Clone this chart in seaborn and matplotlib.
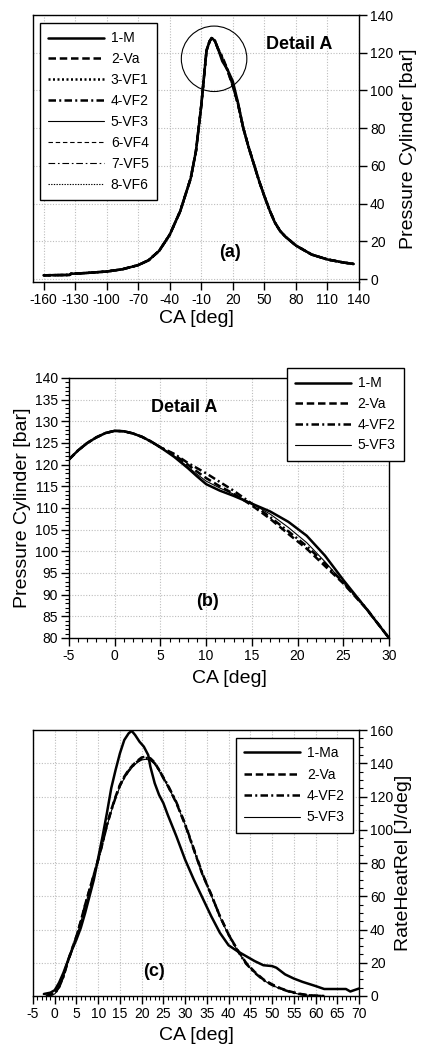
import numpy as np
import pandas as pd
import seaborn as sns
import matplotlib
matplotlib.use("Agg")
import matplotlib.pyplot as plt
from matplotlib.patches import Ellipse
from matplotlib.ticker import MultipleLocator

# ---- panel (a): full cycle pressure ----
ca_a_left = [-160, -135, -134, -120, -100, -85, -70, -60, -50, -40, -30, -20, -15, -10, -5, -2, 0, 3, 6]
p_a_left = [2.0, 2.2, 2.8, 3.2, 4.0, 5.2, 7.4, 10.0, 15.0, 23.5, 36.0, 53.5, 68.0, 92.0, 121.2, 126.2, 127.8, 126.3, 122.0]
ca_a_mid = [10, 15, 20, 25]
p_a_mid_m = [115.5, 111.0, 104.9, 93.4]
p_a_mid_va = [116.9, 110.6, 102.2, 92.6]
p_a_mid_vf1 = [117.4, 110.8, 102.8, 92.8]
p_a_mid_vf2 = [118.0, 111.0, 102.6, 92.7]
p_a_mid_vf3 = [116.2, 110.8, 103.8, 92.9]
p_a_mid_vf4 = [117.0, 110.5, 102.4, 92.5]
p_a_mid_vf5 = [117.6, 110.9, 103.0, 92.8]
p_a_mid_vf6 = [116.6, 110.7, 103.2, 92.6]
ca_a_right = [30, 35, 40, 45, 50, 55, 60, 65, 70, 80, 95, 110, 125, 135]
p_a_right = [80.0, 70.0, 61.0, 52.0, 44.0, 36.5, 30.0, 25.5, 22.5, 17.8, 13.0, 10.4, 8.8, 8.0]

labels_a = ["1-M", "2-Va", "3-VF1", "4-VF2", "5-VF3", "6-VF4", "7-VF5", "8-VF6"]
mids_a = [p_a_mid_m, p_a_mid_va, p_a_mid_vf1, p_a_mid_vf2,
          p_a_mid_vf3, p_a_mid_vf4, p_a_mid_vf5, p_a_mid_vf6]

# ---- panel (b): detail A ----
ca_b = [-5, -4, -3, -2, -1, 0, 1, 2, 3, 4, 5, 6.5, 8, 9, 10, 11.5, 13, 15, 17, 19, 21, 23, 25, 27.5, 30]
p_b_m = [121.2, 123.3, 125.0, 126.3, 127.3, 127.8, 127.7, 127.2, 126.4, 125.3, 124.0, 121.8, 119.2,
         117.3, 115.5, 114.0, 112.8, 111.0, 109.2, 106.8, 103.6, 99.0, 93.4, 86.8, 80.0]
p_b_va = [121.2, 123.3, 125.0, 126.3, 127.3, 127.8, 127.7, 127.2, 126.4, 125.3, 124.0, 122.3, 120.0,
          118.4, 116.9, 115.0, 113.3, 110.6, 107.5, 104.0, 100.6, 96.6, 92.6, 86.8, 80.0]
p_b_vf2 = [121.2, 123.3, 125.0, 126.3, 127.3, 127.8, 127.7, 127.2, 126.4, 125.3, 124.0, 122.5, 120.4,
           119.2, 118.0, 116.0, 114.0, 111.0, 107.9, 104.6, 101.2, 97.2, 92.8, 86.9, 80.0]
p_b_vf3 = [121.2, 123.3, 125.0, 126.3, 127.3, 127.8, 127.7, 127.2, 126.4, 125.3, 124.0, 122.0, 119.5,
           117.8, 116.2, 114.6, 113.2, 111.0, 108.6, 105.5, 102.0, 97.6, 92.8, 86.8, 80.0]

# ---- panel (c): rate of heat release ----
ca_c_m = [-2.5, -1, 0, 1, 2, 3, 4, 5, 6, 7, 8, 9, 10, 11, 12, 13, 14, 15, 16, 17, 17.7, 18.5, 19.5,
          20.5, 21.5, 22, 23, 24, 25, 26, 28, 30, 32, 34, 36, 38, 40, 42, 44, 46, 48, 50, 51, 52, 53,
          55, 57, 60, 62, 67, 68, 69, 70]
hr_c_m = [1.2, 2.0, 3.5, 8, 14, 21, 28, 34, 41, 50, 60, 70, 83, 96, 110, 125, 136, 146, 154, 158, 159.5,
          157, 153, 150, 145, 138, 128, 121, 116, 109, 96, 82, 70, 59, 48, 38, 30.5, 27, 24, 21, 18.5,
          18, 17, 15, 13, 10.5, 8.5, 6, 4.2, 4.2, 2.7, 3.6, 4.5]
ca_c = [-2, 0, 1, 2, 3, 4, 5, 6, 7, 8, 9, 10, 11, 12, 13, 14, 15, 16, 17, 18, 19, 20, 21, 22, 23, 24,
        25, 26, 28, 30, 32, 34, 36, 38, 40, 42, 44, 46, 48, 50, 52, 54, 56, 58, 60, 62]
hr_c_va = [0, 1.5, 5.5, 12, 21, 28.5, 36, 45, 55, 64, 73, 82, 92, 103, 112, 120, 127, 132, 136, 139,
           141.5, 143.5, 144, 143, 140.5, 136, 131, 126.5, 116, 103, 88, 73, 61, 48, 37, 28, 20, 14.5,
           10, 7, 4.6, 2.8, 1.5, 0.6, 0.2, 0]
hr_c_vf2 = [0, 1.4, 5.3, 11.6, 20.5, 28.2, 35.8, 44.8, 54.6, 63.8, 72.8, 82, 92, 102.5, 111.5, 119.5,
            126.5, 131.5, 135.5, 138.5, 141, 142.8, 143.2, 142.5, 140, 136, 131.5, 127, 116.5, 103.5,
            88.5, 73.5, 61, 48, 37, 27.5, 19.5, 14, 9.6, 6.6, 4.3, 2.6, 1.3, 0.5, 0.1, 0]
hr_c_vf3 = [0, 1.2, 5.0, 11.2, 20, 27.8, 35.5, 44.5, 54.2, 63.5, 72.5, 81.6, 91.5, 102, 111, 119,
            126, 131, 135, 138, 140.5, 142, 142.4, 141.8, 139.5, 135.5, 131, 126.5, 116, 103, 88,
            73, 60.5, 47.5, 36.5, 27.5, 19.5, 14, 9.5, 6.5, 4.2, 2.5, 1.2, 0.5, 0.1, 0]

sns.set_theme(style="ticks")
plt.rcParams["font.family"] = ["Liberation Sans", "DejaVu Sans"]
plt.rcParams["axes.unicode_minus"] = False
plt.rcParams["text.color"] = "black"
plt.rcParams["axes.labelcolor"] = "black"
plt.rcParams["axes.edgecolor"] = "black"
plt.rcParams["axes.linewidth"] = 1.0
plt.rcParams["xtick.color"] = "black"
plt.rcParams["ytick.color"] = "black"
plt.rcParams["xtick.labelcolor"] = "black"
plt.rcParams["ytick.labelcolor"] = "black"

TICK_FS = 10
LABEL_FS = 14
LEG_FS = 10
ANN_FS = 13

THICK = 1.8
THIN = 0.8
styles_a = [
    dict(lw=THICK, ls="-"),
    dict(lw=THICK, ls=(0, (3, 1.5))),
    dict(lw=THICK, ls=(0, (0.8, 1.0))),
    dict(lw=THICK, ls=(0, (3, 1.3, 0.8, 1.3))),
    dict(lw=THIN, ls="-"),
    dict(lw=THIN, ls=(0, (4, 2.5))),
    dict(lw=THIN, ls=(0, (6, 2.5, 1.5, 2.5))),
    dict(lw=THIN, ls=(0, (1.2, 1.2))),
]


def style_axes(ax, right=False):
    ax.grid(True, color="#bdbdbd", linestyle=(0, (1, 1.5)), linewidth=0.8)
    ax.set_axisbelow(True)
    for sp in ax.spines.values():
        sp.set_visible(True)
        sp.set_color("black")
        sp.set_linewidth(1.0)
    ax.tick_params(which="major", direction="out", length=5.5, width=1.0, labelsize=TICK_FS, pad=2.5)
    ax.tick_params(which="minor", direction="out", length=3, width=0.8)
    if right:
        ax.yaxis.tick_right()
        ax.yaxis.set_label_position("right")
    ax.tick_params(top=False, which="both")


def make_legend(ax, x, y, spacing=0.55):
    leg = ax.legend(loc="upper left", bbox_to_anchor=(x, y), borderaxespad=0,
                    fontsize=LEG_FS, handlelength=4.0, fancybox=False, framealpha=1,
                    edgecolor="black", frameon=True, borderpad=0.6, labelspacing=spacing,
                    handletextpad=0.5)
    leg.get_frame().set_linewidth(1.0)
    return leg


fig = plt.figure(figsize=(4.21, 10.45), dpi=100)

# (a)
ax = fig.add_axes([0.0784, 0.7306, 0.7743, 0.2550])
for lab, mid, st in zip(labels_a, mids_a, styles_a):
    x = ca_a_left + ca_a_mid + ca_a_right
    y = p_a_left + mid + p_a_right
    sns.lineplot(x=x, y=y, ax=ax, color="black", label=lab, linewidth=st["lw"], linestyle=st["ls"])
ax.set_xlim(-170, 140)
ax.set_ylim(-1.3, 140)
ax.set_xticks(range(-160, 141, 30))
ax.set_yticks(range(0, 141, 20))
style_axes(ax, right=True)
ax.add_patch(Ellipse((2.2, 116.8), 62.3, 34.7, fill=False, lw=0.8, color="black"))
ax.text(82.9, 124.6, "Detail A", fontsize=ANN_FS, fontweight="bold", ha="center", va="center")
ax.text(17, 13.9, "(a)", fontsize=ANN_FS, fontweight="bold", ha="center", va="center")
ax.set_xlabel("CA [deg]", fontsize=LABEL_FS)
ax.set_ylabel("Pressure Cylinder [bar]", fontsize=LABEL_FS)
ax.xaxis.set_label_coords(0.5, -0.105)
ax.yaxis.set_label_coords(1.125, 0.5)
make_legend(ax, 0.0215, 0.970, spacing=0.5)

# (b)
ax = fig.add_axes([0.1639, 0.3895, 0.7600, 0.2488])
for lab, y, st in zip(["1-M", "2-Va", "4-VF2", "5-VF3"],
                      [p_b_m, p_b_va, p_b_vf2, p_b_vf3],
                      [styles_a[0], styles_a[1], styles_a[3], styles_a[4]]):
    sns.lineplot(x=ca_b, y=y, ax=ax, color="black", label=lab, linewidth=st["lw"], linestyle=st["ls"])
ax.set_xlim(-5, 30)
ax.set_ylim(80, 140)
ax.xaxis.set_major_locator(MultipleLocator(5))
ax.xaxis.set_minor_locator(MultipleLocator(1))
ax.yaxis.set_major_locator(MultipleLocator(5))
ax.yaxis.set_minor_locator(MultipleLocator(1))
style_axes(ax)
ax.tick_params(right=False, which="both")
ax.text(7.6, 133.2, "Detail A", fontsize=ANN_FS, fontweight="bold", ha="center", va="center")
ax.text(10.2, 88.5, "(b)", fontsize=ANN_FS, fontweight="bold", ha="center", va="center")
ax.set_xlabel("CA [deg]", fontsize=LABEL_FS)
ax.set_ylabel("Pressure Cylinder [bar]", fontsize=LABEL_FS)
ax.xaxis.set_label_coords(0.5, -0.125)
ax.yaxis.set_label_coords(-0.119, 0.5)
make_legend(ax, 0.681, 1.038, spacing=0.48)

# (c)
ax = fig.add_axes([0.0784, 0.0469, 0.7743, 0.2545])
sns.lineplot(x=ca_c_m, y=hr_c_m, ax=ax, color="black", label="1-Ma", linewidth=THICK, linestyle="-")
for lab, y, st in zip(["2-Va", "4-VF2", "5-VF3"],
                      [hr_c_va, hr_c_vf2, hr_c_vf3],
                      [styles_a[1], styles_a[3], styles_a[4]]):
    sns.lineplot(x=ca_c, y=y, ax=ax, color="black", label=lab, linewidth=st["lw"], linestyle=st["ls"])
ax.set_xlim(-5, 70)
ax.set_ylim(0, 160)
ax.xaxis.set_major_locator(MultipleLocator(5))
ax.xaxis.set_minor_locator(MultipleLocator(1))
ax.yaxis.set_major_locator(MultipleLocator(20))
ax.yaxis.set_minor_locator(MultipleLocator(5))
style_axes(ax, right=True)
ax.text(22.8, 14.6, "(c)", fontsize=ANN_FS, fontweight="bold", ha="center", va="center")
ax.set_xlabel("CA [deg]", fontsize=LABEL_FS)
ax.set_ylabel("RateHeatRel [J/deg]", fontsize=LABEL_FS)
ax.xaxis.set_label_coords(0.5, -0.115)
ax.yaxis.set_label_coords(1.112, 0.5)
make_legend(ax, 0.623, 0.970, spacing=0.53)

fig.savefig("out.png", dpi=100, facecolor="white")
